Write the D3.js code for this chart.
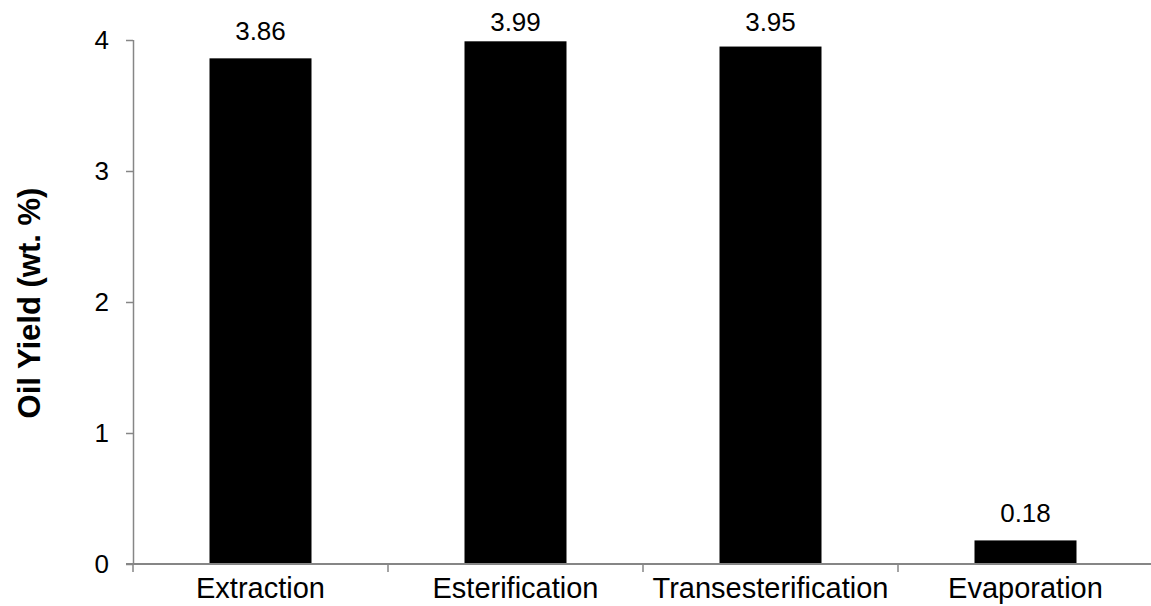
<!DOCTYPE html>
<html>
<head>
<meta charset="utf-8">
<script src="https://cdn.jsdelivr.net/npm/d3@7"></script>
<style>
  html, body { margin: 0; padding: 0; background: #fff; }
  svg { display: block; }
</style>
</head>
<body>
<svg id="chart" width="1151" height="606"></svg>
<script>
// Oil yield per processing step (wt. %)
const categories = ["Extraction", "Esterification", "Transesterification", "Evaporation"];
const yields = [3.86, 3.99, 3.95, 0.18];
const yTicks = [0, 1, 2, 3, 4];

const svg = d3.select("#chart");
const axisColor = "#868686";
const font = "'Liberation Sans', Arial, sans-serif";
const valueSize = 26;
const tickSize = 26;
const categorySize = 29;

const x0 = 133, x1 = 1153, yBottom = 564, yTop = 40;

const x = d3.scaleBand().domain(categories).range([x0, x1]).paddingInner(0).paddingOuter(0);
const y = d3.scaleLinear().domain([0, 4]).range([yBottom, yTop]);
const barW = x.bandwidth() * 0.4;

// Bars
svg.append("g").selectAll("rect")
  .data(categories)
  .join("rect")
  .attr("x", (d) => x(d) + (x.bandwidth() - barW) / 2)
  .attr("y", (d, i) => y(yields[i]))
  .attr("width", barW)
  .attr("height", (d, i) => y(0) - y(yields[i]))
  .attr("fill", "#000");

// Value labels above bars, kept inside the chart top
svg.append("g").selectAll("text")
  .data(categories)
  .join("text")
  .attr("x", (d) => x(d) + x.bandwidth() / 2)
  .attr("y", (d, i) => Math.max(y(yields[i]) - 18, 31))
  .attr("text-anchor", "middle")
  .attr("font-family", font)
  .attr("font-size", valueSize)
  .attr("fill", "#000")
  .text((d, i) => yields[i].toFixed(2));

// Y axis
const yAxis = svg.append("g")
  .attr("transform", `translate(${x0},0)`)
  .call(d3.axisLeft(y).tickValues(yTicks).tickSize(7).tickPadding(17).tickFormat(d3.format("d")));
yAxis.select(".domain").attr("stroke", axisColor).attr("stroke-width", 1.5)
  .attr("d", `M0.5,${yTop}V${yBottom}`);
yAxis.selectAll(".tick line").attr("stroke", axisColor).attr("stroke-width", 1.5);
yAxis.selectAll(".tick text").attr("font-family", font).attr("font-size", tickSize).attr("fill", "#000");

// X axis with ticks at category boundaries
const xAxisG = svg.append("g").attr("transform", `translate(0,${yBottom})`);
xAxisG.append("line")
  .attr("x1", x0 - 7).attr("x2", x1)
  .attr("y1", 0).attr("y2", 0)
  .attr("stroke", axisColor).attr("stroke-width", 2);
const boundaries = categories.map((d) => x(d)).concat([x1]);
xAxisG.selectAll("line.bound")
  .data(boundaries)
  .join("line")
  .attr("class", "bound")
  .attr("x1", (d) => d).attr("x2", (d) => d)
  .attr("y1", 0).attr("y2", 8)
  .attr("stroke", axisColor).attr("stroke-width", 1.5);
xAxisG.selectAll("text")
  .data(categories)
  .join("text")
  .attr("x", (d) => x(d) + x.bandwidth() / 2)
  .attr("y", 34)
  .attr("text-anchor", "middle")
  .attr("font-family", font)
  .attr("font-size", categorySize)
  .attr("fill", "#000")
  .text((d) => d);

// Y axis title
svg.append("text")
  .attr("transform", `translate(29,${(yTop + yBottom) / 2 + 1}) rotate(-90)`)
  .attr("text-anchor", "middle")
  .attr("dy", "0.35em")
  .attr("font-family", font)
  .attr("font-size", 31)
  .attr("font-weight", "bold")
  .attr("fill", "#000")
  .text("Oil Yield (wt. %)");
</script>
</body>
</html>
